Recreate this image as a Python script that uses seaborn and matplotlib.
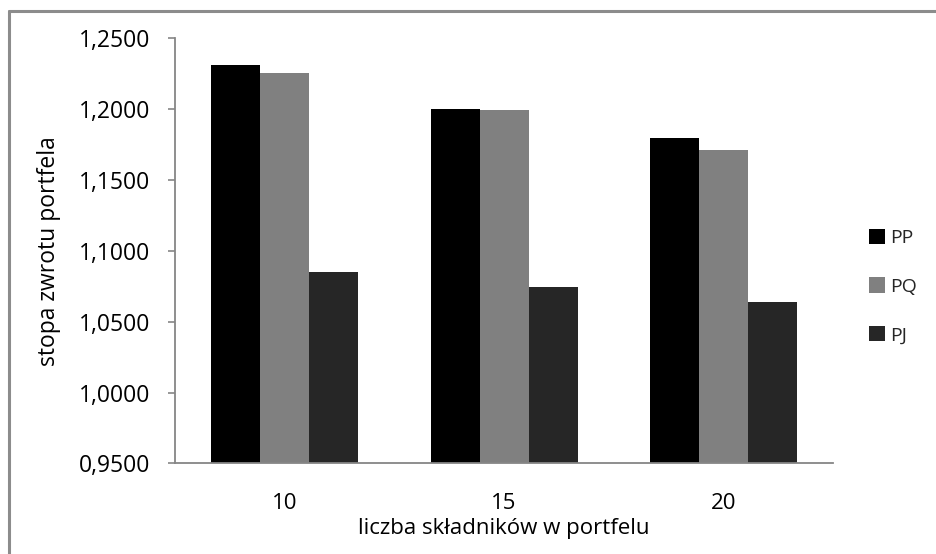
import matplotlib
matplotlib.use("Agg")
import matplotlib.pyplot as plt
import matplotlib.ticker as mticker
from matplotlib.lines import Line2D
import seaborn as sns
import pandas as pd

# Portfolio return rate by number of components
components = ["10", "15", "20"]
series = ["PP", "PQ", "PJ"]
pp_values = [1.2310, 1.2000, 1.1795]
pq_values = [1.2253, 1.1990, 1.1710]
pj_values = [1.0850, 1.0745, 1.0640]
colors = ["#000000", "#808080", "#262626"]
y_ticks = [0.95, 1.00, 1.05, 1.10, 1.15, 1.20, 1.25]

df = pd.DataFrame({
    "liczba": components * 3,
    "seria": [s for s in series for _ in components],
    "stopa": pp_values + pq_values + pj_values,
})

sns.set_theme(style="white")
plt.rcParams["font.family"] = ["Open Sans", "DejaVu Sans"]

fig = plt.figure(figsize=(9.36, 5.54), dpi=100)
ax = fig.add_axes([0.187, 0.1634, 0.703, 0.768])

sns.barplot(data=df, x="liczba", y="stopa", hue="seria", order=components,
            hue_order=series, palette=colors, width=0.67, gap=0,
            saturation=1, linewidth=0, edgecolor="none", ax=ax, legend=False)

ax.set_ylim(0.95, 1.25)
ax.set_yticks(y_ticks)
ax.yaxis.set_major_formatter(mticker.FuncFormatter(
    lambda v, p: f"{v:.4f}".replace(".", ",")))
ax.set_xlim(-0.5, 2.5)

axis_gray = "#868686"
for side in ("top", "right"):
    ax.spines[side].set_visible(False)
for side in ("left", "bottom"):
    ax.spines[side].set_color(axis_gray)
    ax.spines[side].set_linewidth(1.3)

ax.tick_params(axis="y", which="major", left=True, length=5, width=1.2,
               color=axis_gray, pad=13, labelsize=16.5, labelcolor="#000000")
ax.tick_params(axis="x", which="major", bottom=False, pad=15,
               labelsize=16, labelcolor="#000000")

ax.set_xlabel("liczba składników w portfelu", fontsize=16, color="#000000",
              labelpad=3)
ax.set_ylabel("stopa zwrotu portfela", fontsize=16.5, color="#000000",
              labelpad=13)

handles = [plt.Rectangle((0, 0), 1, 1, facecolor=c, edgecolor="none")
           for c in colors]
ax.legend(handles, series, loc="center left", bbox_to_anchor=(0.92, 0.483),
          bbox_transform=fig.transFigure, frameon=False, fontsize=14,
          handlelength=0.85, handleheight=0.85, handletextpad=0.25,
          labelspacing=1.55, borderaxespad=0)

# Chart frame
frame_gray = "#8c8c8c"
fig.add_artist(Line2D([9 / 936, 9 / 936], [0, 1 - 11 / 554],
                      transform=fig.transFigure, color=frame_gray, lw=2.2))
fig.add_artist(Line2D([9 / 936, 1], [1 - 11 / 554, 1 - 11 / 554],
                      transform=fig.transFigure, color=frame_gray, lw=2.2))

fig.savefig("out.png", dpi=100)
